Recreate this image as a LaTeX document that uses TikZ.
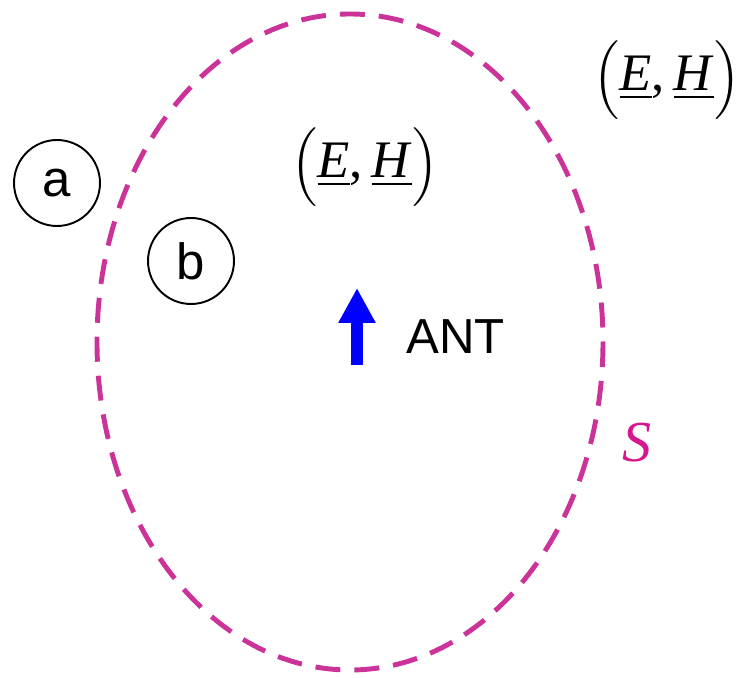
\documentclass[tikz,border=0pt]{standalone}
\usepackage{amsmath}
\usepackage{exscale}
\usepackage{fontspec}
\setmainfont{Liberation Serif}
\setsansfont{Liberation Sans}
\usepackage{tikz}
\usetikzlibrary{positioning,arrows.meta}
\definecolor{surface}{HTML}{CC3399}
\definecolor{slabel}{HTML}{D6168F}
\definecolor{antblue}{HTML}{0000FF}
\newcommand{\fieldpair}{$\Bigl($\underline{\textit{E}},\,\underline{\textit{H}}$\Bigr)$}

\begin{document}
\begin{tikzpicture}[
  x=0.02cm, y=-0.02cm,
  probe/.style={draw, line width=1.1pt, circle, minimum size=1.72cm, inner sep=0pt, font=\sffamily\fontsize{29}{29}\selectfont},
  field/.style={inner sep=0pt, font=\fontsize{30}{30}\selectfont},
  surf/.style={draw=surface, line width=2.8pt, dash pattern=on 0.5cm off 0.28cm},
  antarr/.style={-{Triangle[length=0.7cm,width=0.7cm]}, line width=0.24cm, draw=antblue}
]
\useasboundingbox (0,0) rectangle (748,678);
% closed surface S
\draw[surf] (350,342) ellipse [x radius=253, y radius=328];
\node[text=slabel, font=\itshape\fontsize{33}{33}\selectfont] (slab) at (637,443) {S};
% fields inside and outside
\node[field] (fin) at (365,167) {\fieldpair};
\node[field] (fout) at (667,80) {\fieldpair};
% observation points
\node[probe] (pa) at (57,183) {a};
\node[probe] (pb) at (191,261) {b};
% antenna
\coordinate (antbase) at (357,365);
\coordinate (anttip) at (357,288);
\draw[antarr] (antbase) -- (anttip);
\node[font=\sffamily\fontsize{28}{28}\selectfont, anchor=west] (ant) at (400,337) {ANT};
\end{tikzpicture}
\end{document}
